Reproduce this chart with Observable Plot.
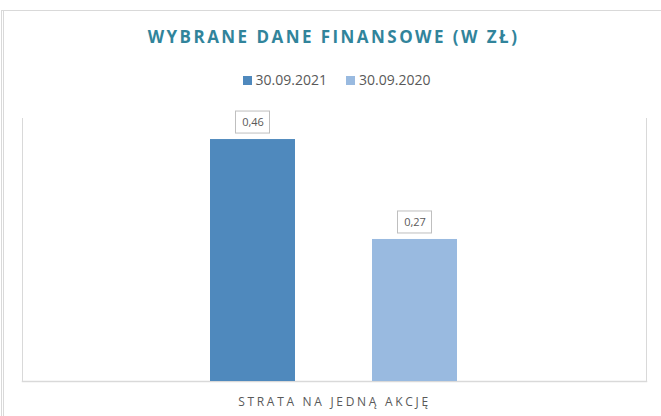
<!DOCTYPE html>
<html><head><meta charset="utf-8">
<script src="https://cdn.jsdelivr.net/npm/d3@7"></script>
<script src="https://cdn.jsdelivr.net/npm/@observablehq/plot@0.6"></script>
<style>
body{margin:0;background:#fff;font-family:"Open Sans",sans-serif;}
#wrap{position:relative;width:661px;height:416px;overflow:hidden;}
#frame{position:absolute;left:1px;top:10px;width:700px;height:500px;border-left:3px double #d9d9d9;border-top:1px solid #d9d9d9;box-sizing:border-box;}
#header{position:relative;width:661px;height:100px;}
#title{position:absolute;top:27px;left:3px;width:661px;text-align:center;font-size:17px;line-height:20px;font-weight:700;letter-spacing:2.45px;color:#31849B;white-space:nowrap;}
#legend{position:absolute;top:71px;left:6px;width:661px;display:flex;justify-content:center;align-items:center;font-size:14px;line-height:18px;color:#595959;white-space:nowrap;}
#legend .item{display:flex;align-items:center;}
#legend .sw{width:9px;height:9px;margin-right:4px;}
#legend .item + .item{margin-left:19px;}
#chart{position:absolute;top:100px;left:0;}
svg [aria-label="fx-axis tick label"] text{letter-spacing:2.7px;}
</style>
</head><body>
<div id="wrap">
<div id="frame"></div>
<div id="header">
  <div id="title"></div>
  <div id="legend"></div>
</div>
<div id="chart"></div>
</div>
<script>
const titleText = "WYBRANE DANE FINANSOWE (W ZŁ)";
const categories = ["STRATA NA JEDNĄ AKCJĘ"];
const series = ["30.09.2021", "30.09.2020"];
const values = [0.46, 0.27];
const valueLabels = ["0,46", "0,27"];
const colors = ["#4F89BD", "#99BAE0"];

document.getElementById("title").textContent = titleText;
const legend = document.getElementById("legend");
series.forEach((s, i) => {
  const item = document.createElement("div");
  item.className = "item";
  const sw = document.createElement("span");
  sw.className = "sw";
  sw.style.background = colors[i];
  const t = document.createElement("span");
  t.textContent = s;
  item.appendChild(sw);
  item.appendChild(t);
  legend.appendChild(item);
});

const data = series.map((s, i) => ({category: categories[0], series: s, value: values[i], label: valueLabels[i]}));

const chart = Plot.plot({
  width: 661,
  height: 316,
  marginTop: 18,
  marginBottom: 35,
  marginLeft: 22,
  marginRight: 15,
  style: {fontFamily: "Open Sans", fontSize: "12px", color: "#595959", background: "transparent"},
  fx: {domain: categories, padding: 0, label: null, axis: "bottom", tickSize: 0, tickPadding: 16},
  x: {domain: series, axis: null, paddingInner: 0.475, paddingOuter: 1.163},
  y: {domain: [0, 0.5], axis: null},
  color: {domain: series, range: colors},
  marks: [
    Plot.frame({anchor: "left", stroke: "#d9d9d9"}),
    Plot.frame({anchor: "right", stroke: "#d9d9d9"}),
    Plot.frame({anchor: "bottom", stroke: "#d9d9d9", strokeWidth: 1.5}),
    Plot.barY(data, {fx: "category", x: "series", y: "value", fill: "series"}),
    Plot.barY(data, {fx: "category", x: "series", y1: "value", y2: "value", insetLeft: 25.5, insetRight: 25.5, insetTop: -22, dy: -6, fill: "white", stroke: "#bfbfbf", strokeWidth: 1}),
    Plot.text(data, {fx: "category", x: "series", y: "value", text: "label", dy: -17, fill: "#595959", fontSize: 11})
  ]
});
document.getElementById("chart").appendChild(chart);
</script>
</body></html>
